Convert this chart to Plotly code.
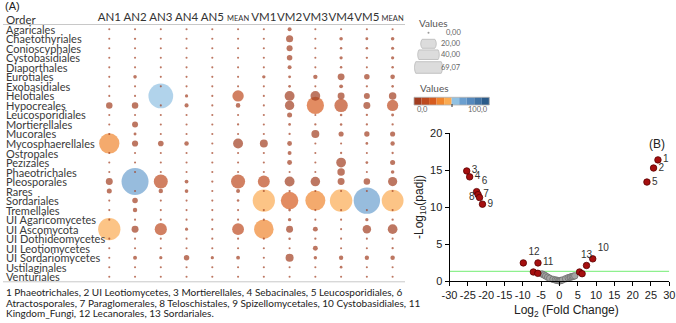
import math
import plotly.graph_objects as go

W, H = 676, 323

# ---------------- data: panel A (bubble matrix) ----------------
orders = ["Agaricales", "Chaetothyriales", "Conioscyphales", "Cystobasidiales",
          "Diaporthales", "Eurotiales", "Exobasidiales", "Helotiales", "Hypocreales",
          "Leucosporidiales", "Mortierellales", "Mucorales", "Mycosphaerellales",
          "Ostropales", "Pezizales", "Phaeotrichales", "Pleosporales", "Rares",
          "Sordariales", "Tremellales", "UI Agaricomycetes", "UI Ascomycota",
          "UI Dothideomycetes", "UI Leotiomycetes", "UI Sordariomycetes",
          "Ustilaginales", "Venturiales"]
col_labels = ["AN1", "AN2", "AN3", "AN4", "AN5", "MEAN",
              "VM1", "VM2", "VM3", "VM4", "VM5", "MEAN"]

an1 = [0.1, 0.1, 0.1, 0.1, 0.1, 0.1, 0.1, 0.1, 4.0, 0.1, 0.1, 0.1, 39.0, 0.1,
       0.1, 0.1, 4.6, 2.4, 0.1, 0.1, 0.1, 47.0, 0.1, 0.1, 0.1, 0.1, 0.1]
an2 = [0.1, 0.5, 0.4, 0.2, 0.4, 1.2, 0.1, 0.1, 4.0, 0.1, 3.4, 0.8, 3.6, 0.4,
       0.2, 0.1, 69.07, 0.1, 2.9, 1.9, 0.1, 4.6, 0.1, 0.1, 1.5, 0.1, 0.1]
an3 = [0.1, 0.4, 0.1, 0.1, 0.1, 0.1, 0.3, 58.0, 0.3, 0.1, 0.1, 0.1, 3.0, 0.1,
       0.1, 0.1, 18.5, 1.9, 0.1, 0.3, 0.1, 14.0, 0.1, 0.1, 1.0, 0.1, 0.1]
an4 = [0.1, 0.1, 0.1, 0.1, 0.1, 0.4, 0.4, 1.0, 1.6, 0.1, 0.1, 0.1, 1.9, 0.1,
       0.3, 0.1, 1.4, 1.3, 0.1, 0.1, 0.1, 0.9, 0.1, 0.1, 2.8, 0.1, 0.1]
an5 = [0.1, 0.1, 0.1, 0.1, 0.1, 0.1, 0.1, 0.1, 0.1, 0.1, 0.1, 0.1, 0.1, 0.1,
       0.1, 0.1, 0.5, 0.3, 0.1, 0.1, 0.1, 0.1, 0.1, 0.1, 1.0, 0.1, 0.1]
mean_an = [0.15, 0.2, 0.15, 0.15, 0.15, 0.3, 0.15, 12.2, 2.0, 0.15, 0.5, 0.15, 9.3, 0.15,
           0.15, 0.15, 18.8, 1.5, 0.6, 0.4, 0.15, 13.3, 0.15, 0.15, 1.4, 0.15, 0.15]
vm1 = [0.1, 0.1, 0.1, 0.1, 0.1, 1.1, 0.1, 0.1, 0.1, 0.1, 0.1, 0.1, 6.0, 0.1,
       0.1, 0.1, 13.5, 0.2, 47.0, 0.1, 0.3, 36.0, 0.1, 0.1, 0.1, 0.1, 0.1]
vm2 = [1.5, 4.8, 3.5, 2.9, 1.5, 0.8, 0.7, 9.3, 8.3, 2.4, 0.7, 0.5, 2.2, 1.5,
       2.3, 0.4, 9.3, 0.5, 29.0, 0.7, 1.1, 4.6, 0.6, 0.1, 6.2, 0.1, 0.1]
vm3 = [0.1, 0.1, 0.1, 0.1, 0.1, 1.8, 0.4, 9.0, 28.0, 0.1, 0.5, 6.0, 0.1, 0.1,
       0.1, 0.1, 8.5, 0.1, 38.0, 0.1, 0.1, 2.3, 0.5, 2.3, 1.1, 0.3, 0.4]
vm4 = [0.1, 1.2, 0.6, 1.0, 0.6, 4.5, 1.4, 4.6, 17.0, 0.6, 0.6, 2.5, 0.2, 0.5,
       9.0, 5.3, 4.6, 0.1, 48.0, 0.1, 0.1, 0.2, 0.1, 0.1, 1.8, 0.7, 0.1]
vm5 = [0.1, 0.8, 0.6, 0.5, 0.1, 2.9, 0.5, 3.4, 4.6, 0.5, 0.5, 2.7, 0.7, 0.1,
       0.7, 0.1, 4.0, 0.1, 66.0, 0.1, 1.0, 6.8, 0.1, 0.1, 1.8, 0.1, 0.1]
mean_vm = [0.4, 1.2, 0.9, 1.0, 0.6, 2.0, 0.6, 5.3, 12.0, 0.8, 0.5, 2.5, 1.8, 0.5,
           2.4, 1.2, 8.0, 0.2, 45.0, 0.3, 0.5, 9.0, 0.4, 0.5, 1.9, 0.3, 0.1]

columns = [an1, an2, an3, an4, an5, mean_an, vm1, vm2, vm3, vm4, vm5, mean_vm]
value_max = 69.07
size_legend_values = [0.0, 20.0, 40.0, 69.07]
size_legend_labels = ["0,00", "20,00", "40,00", "69,07"]

step_colors = ["#a13d20", "#bd4a20", "#d65b1f", "#f0862f", "#fbab52",
               "#90c1e2", "#6b9fcf", "#5589bd", "#3f72a4", "#2b5b8a"]

# ---------------- data: panel B (volcano) ----------------
lab_x = [26.9, 25.7, -25.3, -24.5, 23.9, -22.6, -22.2, -21.8, -21.0, 9.1, -5.85, -9.85, 7.4]
lab_y = [16.4, 15.3, 14.9, 14.1, 13.4, 12.1, 11.7, 11.3, 10.4, 3.0, 2.45, 2.45, 2.1]
lab_text = ["1", "2", "3", "4", "5", "6", "7", "8", "9", "10", "11", "12", "13"]
lab_pos = ["middle right", "middle right", "middle right", "middle right", "middle right",
           "top right", "middle right", "middle left", "middle right", "top right",
           "middle right", "top right", "top center"]
red_x = [-7.1, -5.9, 5.5, 6.2]
red_y = [1.22, 1.04, 1.22, 0.99]
gray_x = [-4.75, -4.2, -3.75, -3.2, -2.65, -1.74, -1.1, -0.64, -0.2, 0.1, 0.4, 0.8,
          1.7, 2.4, 2.9, 3.1, 3.5, 3.8, 4.2]
gray_y = [0.95, 0.82, 0.68, 0.52, 0.36, 0.22, 0.14, 0.09, 0.04, 0.02, 0.06, 0.13,
          0.3, 0.45, 0.5, 0.54, 0.6, 0.63, 0.7]
thresh_x = [-30, 30]
thresh_y = [1.3, 1.3]
vx_ticks = [-30, -25, -20, -15, -10, -5, 0, 5, 10, 15, 20, 25, 30]
vy_ticks = [0, 5, 10, 15, 20]

footnote = ["1 Phaeotrichales, 2 UI Leotiomycetes, 3 Mortierellales, 4 Sebacinales, 5 Leucosporidiales, 6",
            "Atractosporales, 7 Paraglomerales, 8 Teloschistales, 9 Spizellomycetales, 10 Cystobasidiales, 11",
            "Kingdom_Fungi, 12 Lecanorales, 13 Sordariales."]


def px(x):
    return x / W


def py(y):
    return 1 - y / H


colorscale = []
for i, c in enumerate(step_colors):
    colorscale.append([i / 10, c])
    colorscale.append([(i + 1) / 10, c])

# long format, biggest first so small dots sit on top
pts = []
for ci, col in enumerate(columns):
    for ri, v in enumerate(col):
        pts.append((v, ci, ri))
pts.sort(key=lambda t: -t[0])
bx = [p[1] for p in pts]
by = [p[2] for p in pts]
bv = [p[0] for p in pts]

MAXD = 27.0
fig = go.Figure()
fig.add_trace(go.Scatter(
    x=bx, y=by, mode="markers", xaxis="x", yaxis="y", cliponaxis=False,
    marker=dict(size=bv, sizemode="area", sizeref=2 * value_max / MAXD ** 2, sizemin=1.05,
                color=bv, colorscale=colorscale, cmin=0, cmax=100, showscale=False,
                line=dict(width=0)),
    hovertemplate="%{marker.size}<extra></extra>"))

# volcano
VF = "Liberation Sans, Arial"
fig.add_trace(go.Scatter(x=thresh_x, y=thresh_y, mode="lines", xaxis="x2", yaxis="y2",
                         line=dict(color="#8ef08e", width=1.2), hoverinfo="skip"))
fig.add_trace(go.Scatter(x=gray_x, y=gray_y, mode="markers", xaxis="x2", yaxis="y2",
                         cliponaxis=False,
                         marker=dict(size=6.5, color="#a3a3a3", line=dict(color="#6e6e6e", width=0.8))))
fig.add_trace(go.Scatter(x=red_x, y=red_y, mode="markers", xaxis="x2", yaxis="y2",
                         cliponaxis=False,
                         marker=dict(size=6.5, color="#a50f0f", line=dict(color="#5c0000", width=0.8))))
fig.add_trace(go.Scatter(x=lab_x, y=lab_y, mode="markers+text", xaxis="x2", yaxis="y2",
                         cliponaxis=False, text=lab_text, textposition=lab_pos,
                         textfont=dict(family=VF, size=10, color="#333333"),
                         marker=dict(size=6.5, color="#a50f0f", line=dict(color="#5c0000", width=0.8))))

ann = []
shapes = []
FONT = "Lato, sans-serif"

# panel A header and labels
ann.append(dict(text="(A)", x=px(3), y=py(6), xref="paper", yref="paper", xanchor="left",
                yanchor="middle", showarrow=False, font=dict(family="Liberation Sans", size=11, color="#222")))
ann.append(dict(text="Order", x=px(4), y=py(19), xref="paper", yref="paper", xanchor="left",
                yanchor="middle", showarrow=False, font=dict(family=FONT, size=11.5, color="#333")))
for ri, name in enumerate(orders):
    ann.append(dict(text=name, x=px(4), y=ri, xref="paper", yref="y", xanchor="left",
                    yanchor="middle", showarrow=False, font=dict(family=FONT, size=11, color="#3a3a3a")))

shapes.append(dict(type="line", xref="paper", yref="paper", x0=px(3), x1=px(405),
                   y0=py(24.5), y1=py(24.5), line=dict(color="#c8c8c8", width=1)))
shapes.append(dict(type="line", xref="paper", yref="paper", x0=px(3), x1=px(405),
                   y0=py(281.8), y1=py(281.8), line=dict(color="#c8c8c8", width=1)))

tick_text = []
for lab in col_labels:
    if lab == "MEAN":
        tick_text.append("<span style='font-size:7.5px'>" + lab + "</span>")
    else:
        tick_text.append(lab)

# size legend
ann.append(dict(text="Values", x=px(417), y=py(23), xref="paper", yref="paper", xanchor="left",
                yanchor="middle", showarrow=False, font=dict(family=FONT, size=10, color="#555")))
legend_rows_y = [32.7, 43.8, 54.7, 67.5]
legend_half_h = [0, 4.5, 4.8, 5.8]
for v, lab, cy, hh in zip(size_legend_values, size_legend_labels, legend_rows_y, legend_half_h):
    ann.append(dict(text=lab, x=px(463), y=py(cy), xref="paper", yref="paper", xanchor="right",
                    yanchor="middle", showarrow=False, font=dict(family=FONT, size=7.5, color="#666")))
    cx = 428.5
    if v == 0:
        shapes.append(dict(type="circle", xref="paper", yref="paper", x0=px(cx - 1), x1=px(cx + 1),
                           y0=py(cy + 1), y1=py(cy - 1), fillcolor="#9a9a9a", line=dict(width=0)))
        continue
    r = MAXD / 2 * math.sqrt(v / value_max) + 0.5
    a = math.asin(min(hh / r, 1.0))
    n = 10
    poly = []
    for k in range(n + 1):
        t = -a + 2 * a * k / n
        poly.append((cx + r * math.cos(t), cy + r * math.sin(t)))
    for k in range(n + 1):
        t = a - 2 * a * k / n
        poly.append((cx - r * math.cos(t), cy + r * math.sin(t)))
    path = "M " + " L ".join(f"{px(xx):.5f},{py(yy):.5f}" for xx, yy in poly) + " Z"
    shapes.append(dict(type="path", xref="paper", yref="paper", path=path,
                       fillcolor="#dcdcdc", line=dict(color="#b8b8b8", width=0.8)))

# colour legend
ann.append(dict(text="Values", x=px(418), y=py(88), xref="paper", yref="paper", xanchor="left",
                yanchor="middle", showarrow=False, font=dict(family=FONT, size=10, color="#555")))
x0, x1 = 414.0, 489.3
stepw = (x1 - x0) / len(step_colors)
for i, c in enumerate(step_colors):
    shapes.append(dict(type="rect", xref="paper", yref="paper", x0=px(x0 + i * stepw),
                       x1=px(x0 + (i + 1) * stepw), y0=py(105), y1=py(97.3),
                       fillcolor=c, line=dict(width=0)))
shapes.append(dict(type="rect", xref="paper", yref="paper", x0=px(x0), x1=px(x1), y0=py(105),
                   y1=py(97.3), line=dict(color="#b0b0b0", width=0.8)))
shapes.append(dict(type="line", xref="paper", yref="paper", x0=px(452), x1=px(452), y0=py(104),
                   y1=py(107), line=dict(color="#333", width=1)))
ann.append(dict(text="0,0", x=px(415), y=py(110), xref="paper", yref="paper", xanchor="left",
                yanchor="middle", showarrow=False, font=dict(family=FONT, size=7.5, color="#666")))
ann.append(dict(text="100,0", x=px(489.5), y=py(110), xref="paper", yref="paper", xanchor="right",
                yanchor="middle", showarrow=False, font=dict(family=FONT, size=7.5, color="#666")))

# panel B labels
ann.append(dict(text="(B)", x=px(657), y=py(144), xref="paper", yref="paper", xanchor="center",
                yanchor="middle", showarrow=False, font=dict(family=VF, size=12, color="#222")))
ann.append(dict(text="Log<sub>2</sub> (Fold Change)", x=px(566), y=py(311), xref="paper", yref="paper",
                xanchor="center", yanchor="middle", showarrow=False,
                font=dict(family=VF, size=12, color="#222")))
ann.append(dict(text="-Log<sub>10</sub>(padj)", x=px(420), y=py(207), xref="paper", yref="paper",
                xanchor="center", yanchor="middle", showarrow=False, textangle=-90,
                font=dict(family=VF, size=12, color="#222")))

# footnote
for i, line in enumerate(footnote):
    ann.append(dict(text=line, x=px(4), y=py(292 + 10.6 * i), xref="paper", yref="paper",
                    xanchor="left", yanchor="middle", showarrow=False,
                    font=dict(family=FONT, size=10, color="#222")))

fig.update_layout(
    width=W, height=H, margin=dict(l=0, r=0, t=0, b=0, pad=0, autoexpand=False),
    paper_bgcolor="white", plot_bgcolor="white", showlegend=False,
    xaxis=dict(domain=[px(96.4), px(405.5)], range=[-0.5, 11.5], side="top",
               tickvals=list(range(len(col_labels))), ticktext=tick_text, tickangle=0,
               tickfont=dict(family=FONT, size=11.5, color="#333"), ticks="",
               showgrid=False, zeroline=False, showline=False, anchor="y", fixedrange=True,
               automargin=False),
    yaxis=dict(domain=[py(281.5), py(24.5)], range=[len(orders) - 0.5, -0.5],
               showticklabels=False, showgrid=False, zeroline=False, showline=False,
               anchor="x", fixedrange=True, automargin=False),
    xaxis2=dict(domain=[px(449.5), px(669.3)], range=[-30, 30], anchor="y2",
                tickvals=vx_ticks, ticktext=[str(t) for t in vx_ticks], tickangle=0,
                tickfont=dict(family=VF, size=11, color="#222"),
                ticks="outside", ticklen=4, tickwidth=1, tickcolor="#000",
                showline=True, linecolor="#000", linewidth=1,
                showgrid=False, zeroline=False, fixedrange=True, automargin=False),
    yaxis2=dict(domain=[py(281), py(133.3)], range=[0, 20], anchor="x2",
                tickvals=vy_ticks, ticktext=[str(t) for t in vy_ticks],
                tickfont=dict(family=VF, size=11, color="#222"),
                ticks="outside", ticklen=4, tickwidth=1, tickcolor="#000",
                showline=True, linecolor="#000", linewidth=1,
                showgrid=False, zeroline=False, fixedrange=True, automargin=False),
    annotations=ann, shapes=shapes,
)

fig.write_html("out.html", config={"displayModeBar": False},
               post_script="document.body.style.margin='0';document.body.style.padding='0';"
                           "document.body.style.overflow='hidden';")
